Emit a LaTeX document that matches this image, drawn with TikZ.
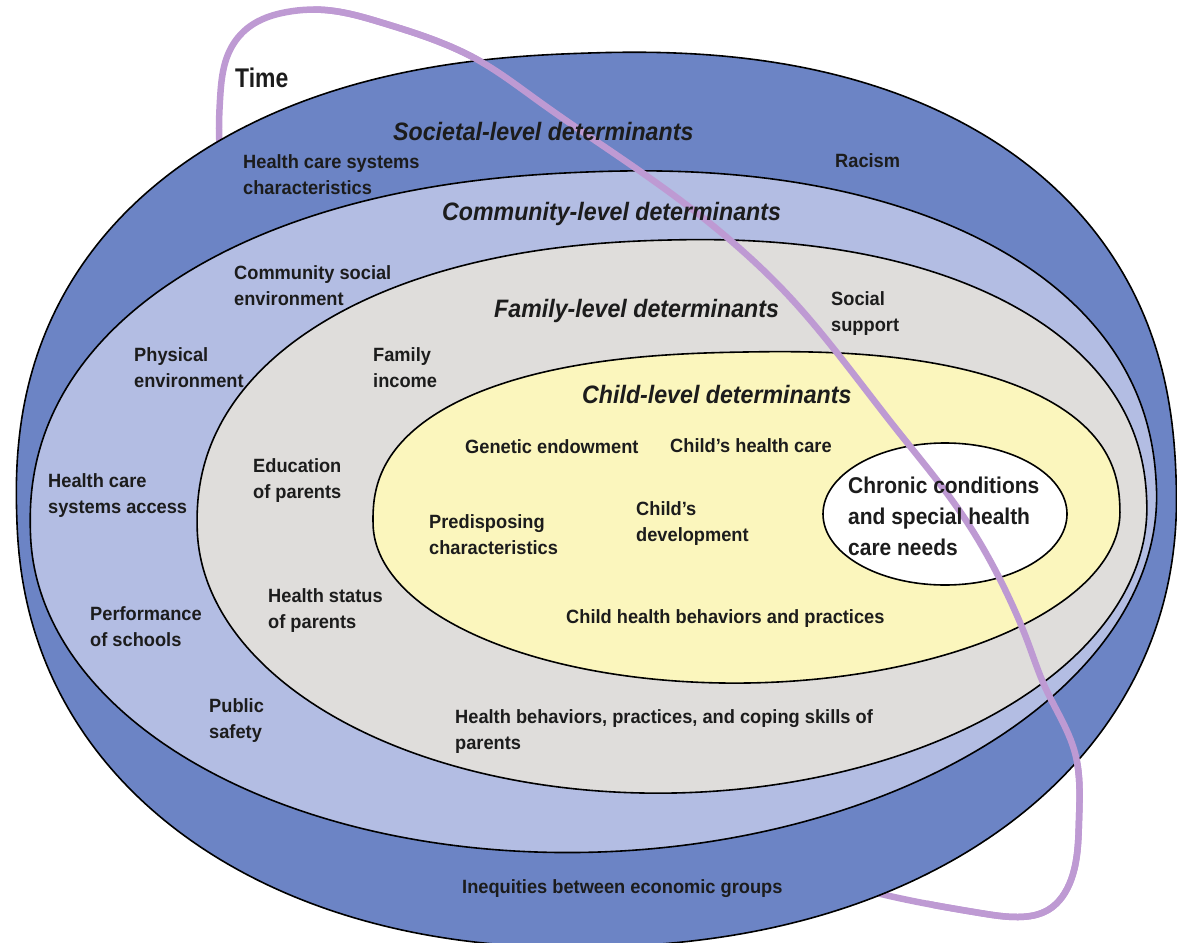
\documentclass[tikz,border=0pt]{standalone}
\usepackage{fontspec}
\setmainfont{Liberation Sans}
\newfontfamily\bodyfont{Liberation Sans}[FakeStretch=0.95]
\newfontfamily\headfont{Liberation Sans}[FakeStretch=0.92]
\newfontfamily\timefont{Liberation Sans}[FakeStretch=0.85]
\usetikzlibrary{hobby}

\definecolor{outerc}{HTML}{6C84C5}
\definecolor{commc}{HTML}{B3BDE3}
\definecolor{famc}{HTML}{DFDDDB}
\definecolor{childc}{HTML}{FBF6BD}
\definecolor{timec}{HTML}{BE9AD3}
\definecolor{ink}{HTML}{1C1C1C}

% rounded ring outline: x radius, y radius, exponent for the upper half,
% exponent for the lower half (0 gives a plain half ellipse)
\newcommand{\RingPath}[4]{%
  plot[domain=180.5:359.5, samples=180]
    ({#1*cos(\x)*abs(cos(\x))^(#3)}, {#2*sin(\x)*abs(sin(\x))^(#3)})
  -- plot[domain=0.5:179.5, samples=180]
    ({#1*cos(\x)*abs(cos(\x))^(#4)}, {#2*sin(\x)*abs(sin(\x))^(#4)})
  -- cycle}

\tikzset{
  layer/.style={draw=black, line width=1.6pt},
  timeline/.style={draw=timec, line width=6.5pt},
  lbl/.style={font=\bodyfont\bfseries\fontsize{19.2}{26}\selectfont,
              anchor=base west, align=left, inner sep=0pt, text=ink},
  head/.style={font=\headfont\bfseries\itshape\fontsize{25.2}{30}\selectfont,
               anchor=base west, inner sep=0pt, text=ink},
  timeloop/.style={insert path={plot[closed hobby] coordinates {
      (220,100) (230,50) (249,27) (287,12) (325,10) (383,23) (478,60)
      (537,100) (680,200) (730,240) (786,293) (852,372) (897,430)
      (961,513) (1010,600) (1027,640) (1045,687) (1075,753) (1079,820)
      (1071,880) (1048,910) (1018,917) (980,913) (923,903) (877,893)
      (760,850) (520,620) (330,370) (235,210) (220,150)}}},
}

\begin{document}
\begin{tikzpicture}[x=1pt, y=-1pt]
\useasboundingbox (0,0) rectangle (1177,942);

% time ring, rear half (hidden behind the rings)
\draw[timeline, timeloop];

% societal level
\path[layer, fill=outerc, shift={(596.5,500)}, rotate=2]
  \RingPath{580}{447}{-0.1304}{-0.0698};

% community level
\path[layer, fill=commc, shift={(593.5,512)}, rotate=2.5]
  \RingPath{563.5}{340}{-0.0909}{0};

% family level
\path[layer, fill=famc, shift={(672,516.5)}, rotate=1.5]
  \RingPath{475}{276.5}{-0.0909}{0};

% child level
\path[layer, fill=childc, shift={(746.5,517.5)}, rotate=1]
  \RingPath{373.5}{165.5}{-0.1667}{0};

% chronic conditions
\path[layer, fill=white] (945,514) ellipse [x radius=122, y radius=71];

% time ring, front half (over the rings)
\begin{scope}
  \clip (300,-20) -- (1250,-20) -- (1250,1000) -- (1000,1000) -- (400,180) -- cycle;
  \draw[timeline, timeloop];
\end{scope}

% labels (multi-line labels are placed by the baseline of their last line)
\node[anchor=base west, inner sep=0pt, text=ink,
      font=\timefont\bfseries\fontsize{27}{30}\selectfont] (time) at (235,88) {Time};

\node[head] (soc)   at (393,140) {Societal-level determinants};
\node[head] (comm)  at (442,220) {Community-level determinants};
\node[head] (fam)   at (494,317) {Family-level determinants};
\node[head] (child) at (582,403) {Child-level determinants};

\node[lbl] (hcsc)    at (243,194) {Health care systems\\characteristics};
\node[lbl] (racism)  at (835,167) {Racism};
\node[lbl] (csoc)    at (234,305) {Community social\\environment};
\node[lbl] (social)  at (831,331) {Social\\support};
\node[lbl] (phys)    at (134,387) {Physical\\environment};
\node[lbl] (income)  at (373,387) {Family\\income};
\node[lbl] (genetic) at (465,453) {Genetic endowment};
\node[lbl] (chc)     at (670,452) {Child’s health care};
\node[lbl] (edu)     at (253,498) {Education\\of parents};
\node[lbl] (hcsa)    at (48,513)  {Health care\\systems access};
\node[lbl] (predis)  at (429,554) {Predisposing\\characteristics};
\node[lbl] (dev)     at (636,541) {Child’s\\development};
\node[lbl] (hstat)   at (268,628) {Health status\\of parents};
\node[lbl] (perf)    at (90,646)  {Performance\\of schools};
\node[lbl] (chb)     at (566,623) {Child health behaviors and practices};
\node[lbl] (public)  at (209,738) {Public\\safety};
\node[lbl] (hbp)     at (455,749) {Health behaviors, practices, and coping skills of\\parents};
\node[lbl] (ineq)    at (462,893) {Inequities between economic groups};

\node[lbl, font=\headfont\bfseries\fontsize{22.8}{31}\selectfont] (chronic) at (848,555)
  {Chronic conditions\\and special health\\care needs};

\end{tikzpicture}
\end{document}
